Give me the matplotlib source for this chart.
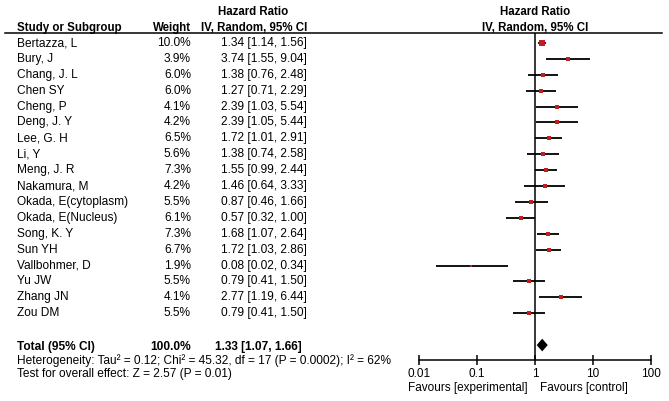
import matplotlib
matplotlib.use("Agg")
import matplotlib.pyplot as plt
import matplotlib.transforms as mtransforms
from matplotlib.lines import Line2D
import numpy as np

plt.rcParams['font.family'] = ['Liberation Sans', 'DejaVu Sans']
plt.rcParams['font.size'] = 8.6

studies = ["Bertazza, L", "Bury, J", "Chang, J. L", "Chen SY", "Cheng, P", "Deng, J. Y",
           "Lee, G. H", "Li, Y", "Meng, J. R", "Nakamura, M", "Okada, E(cytoplasm)",
           "Okada, E(Nucleus)", "Song, K. Y", "Sun YH", "Vallbohmer, D", "Yu JW",
           "Zhang JN", "Zou DM"]
weights = [10.0, 3.9, 6.0, 6.0, 4.1, 4.2, 6.5, 5.6, 7.3, 4.2, 5.5, 6.1, 7.3, 6.7, 1.9, 5.5, 4.1, 5.5]
hr = [1.34, 3.74, 1.38, 1.27, 2.39, 2.39, 1.72, 1.38, 1.55, 1.46, 0.87, 0.57, 1.68, 1.72, 0.08, 0.79, 2.77, 0.79]
lo = [1.14, 1.55, 0.76, 0.71, 1.03, 1.05, 1.01, 0.74, 0.99, 0.64, 0.46, 0.32, 1.07, 1.03, 0.02, 0.41, 1.19, 0.41]
hi = [1.56, 9.04, 2.48, 2.29, 5.54, 5.44, 2.91, 2.58, 2.44, 3.33, 1.66, 1.00, 2.64, 2.86, 0.34, 1.50, 6.44, 1.50]

total_weight = 100.0
total_hr, total_lo, total_hi = 1.33, 1.07, 1.66
heterogeneity = "Heterogeneity: Tau\u00b2 = 0.12; Chi\u00b2 = 45.32, df = 17 (P = 0.0002); I\u00b2 = 62%"
overall = "Test for overall effect: Z = 2.57 (P = 0.01)"
ticks = [0.01, 0.1, 1, 10, 100]
tick_labels = ["0.01", "0.1", "1", "10", "100"]

W, H = 669, 401
fig = plt.figure(figsize=(W / 100, H / 100), dpi=100)
# forest panel: x 419..651 px, y 33..360 px from top
ax = fig.add_axes([419 / W, (H - 360) / H, 232 / W, 327 / H])
ax.set_xscale('log')
ax.set_xlim(0.01, 100)
ax.set_ylim(19.94, -0.63)

red = '#BF1E24'
rows = np.arange(len(studies))
for i in rows:
    ax.plot([lo[i], hi[i]], [i, i], color='black', lw=1.3, solid_capstyle='butt', zorder=2)
    side = 5.8 * np.sqrt(weights[i] / 10.0)
    ax.plot(hr[i], i, marker='s', color=red, markersize=side * 0.72, markeredgewidth=0, zorder=3)

ty = len(studies) + 1
ax.fill([total_lo, total_hr, total_hi, total_hr], [ty, ty - 0.4, ty, ty + 0.4],
        color='black', lw=0, zorder=3)
ax.axvline(1, color='black', lw=1.1, zorder=1)

for s in ['top', 'right', 'left']:
    ax.spines[s].set_visible(False)
ax.spines['bottom'].set_linewidth(1.1)
ax.set_yticks([])
ax.set_xticks(ticks)
ax.set_xticklabels(tick_labels, fontsize=8.5)
ax.minorticks_off()
ax.tick_params(axis='x', direction='inout', length=7, width=1.1, pad=2)
ax.patch.set_alpha(0)

tr = mtransforms.blended_transform_factory(fig.transFigure, ax.transData)
trx = ax.transData

# headers
hb = dict(fontweight='bold', fontsize=8.3, va='baseline')
ax.text(17 / W, -0.74, "Study or Subgroup", transform=tr, ha='left', **hb)
ax.text(191 / W, -0.74, "Weight", transform=tr, ha='right', **hb)
ax.text(253 / W, -1.74, "Hazard Ratio", transform=tr, ha='center', **hb)
ax.text(307 / W, -0.74, "IV, Random, 95% CI", transform=tr, ha='right', **hb)
ax.text(1, -1.74, "Hazard Ratio", transform=trx, ha='center', **hb)
ax.text(1, -0.74, "IV, Random, 95% CI", transform=trx, ha='center', **hb)
fig.add_artist(Line2D([5 / W, 662 / W], [(H - 33) / H, (H - 33) / H], color='black', lw=1.1))

for i in rows:
    ax.text(17 / W, i, studies[i], transform=tr, va='center', ha='left')
    ax.text(191 / W, i, f"{weights[i]:.1f}%", transform=tr, va='center', ha='right')
    ax.text(307 / W, i, f"{hr[i]:.2f} [{lo[i]:.2f}, {hi[i]:.2f}]", transform=tr, va='center', ha='right')

ax.text(17 / W, ty + 0.15, "Total (95% CI)", transform=tr, va='center', ha='left', fontweight='bold')
ax.text(191 / W, ty + 0.15, f"{total_weight:.1f}%", transform=tr, va='center', ha='right', fontweight='bold')
ax.text(302 / W, ty + 0.15, f"{total_hr:.2f} [{total_lo:.2f}, {total_hi:.2f}]", transform=tr,
        va='center', ha='right', fontweight='bold')
ax.text(17 / W, ty + 1.0, heterogeneity, transform=tr, va='center', ha='left')
ax.text(17 / W, ty + 1.82, overall, transform=tr, va='center', ha='left')

ax.text(528 / W, ty + 2.7, "Favours [experimental]", transform=tr, va='center', ha='right', fontsize=8.5)
ax.text(540 / W, ty + 2.7, "Favours [control]", transform=tr, va='center', ha='left', fontsize=8.5)

fig.savefig("out.png", dpi=100)
